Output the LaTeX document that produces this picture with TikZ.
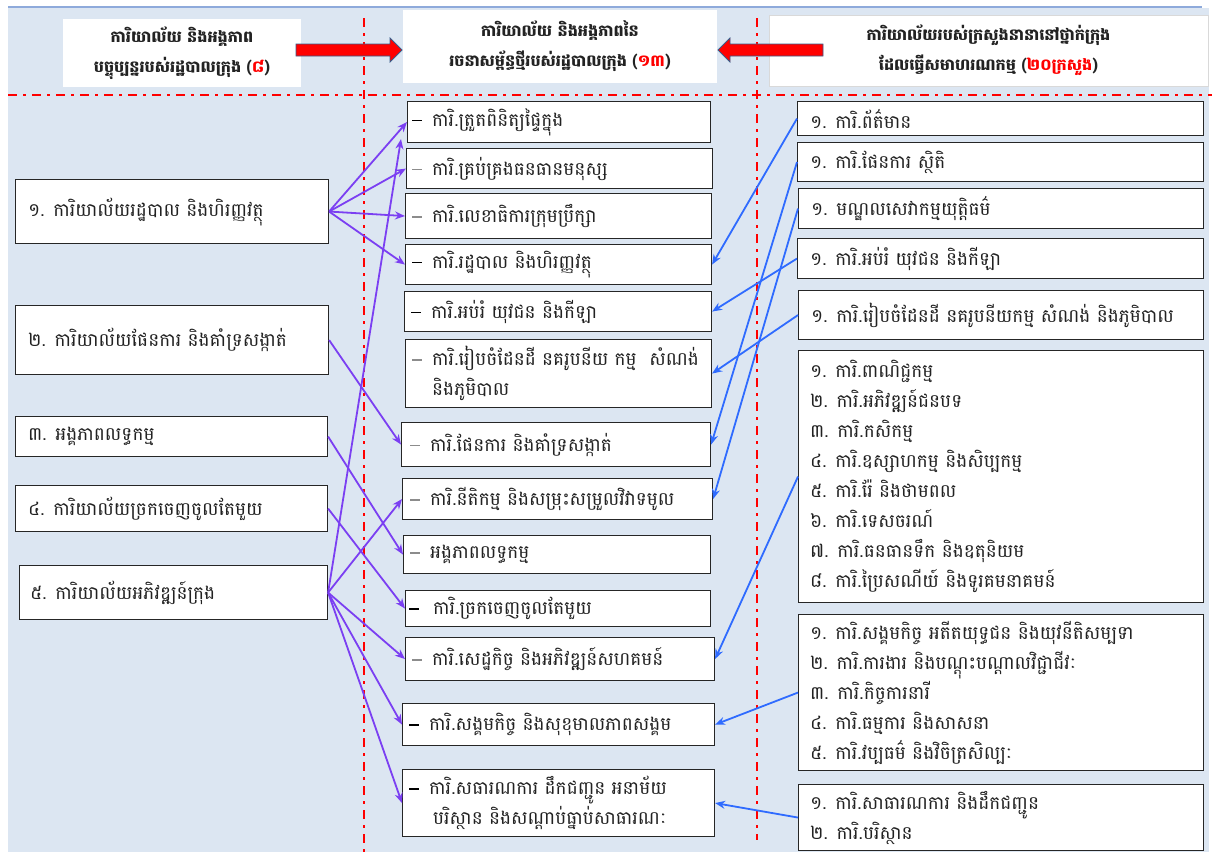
\documentclass[tikz,border=0pt]{standalone}
\usepackage{fontspec}
\newfontfamily\km[Script=Khmer]{Battambang}
\usetikzlibrary{arrows.meta}
\definecolor{bgblue}{HTML}{DCE6F2}
\definecolor{topline}{HTML}{8EAADB}
\definecolor{violetc}{HTML}{7B3FF2}
\definecolor{bluec}{HTML}{2F6BFF}
\definecolor{arrowedge}{HTML}{385D8A}
\definecolor{dashgray}{HTML}{8C8C8C}
\definecolor{txtc}{HTML}{222222}
\newcommand\dsh[1][black]{\makebox[20pt][l]{\textcolor{#1}{\rule[5pt]{10pt}{1.2pt}}}}
\newcommand\mybox[7]{%
  \pgfmathsetmacro\mybw{#4-#2}\pgfmathsetmacro\mybh{#5-#3}%
  \node[box, minimum width=\mybw pt, minimum height=\mybh pt] (#1) at (#2,#3) {};
  \node[txt] (#1t) at ([xshift=#6pt]#1.west) {#7};}
\begin{document}
\begin{tikzpicture}[x=1pt,y=-1pt,
  box/.style={draw=black!85, line width=1.1pt, fill=white, anchor=north west, inner sep=0pt},
  txt/.style={anchor=west, align=left, inner sep=0pt, text=txtc, font=\km\fontsize{18.5}{30}\selectfont},
  hdr/.style={fill=white, align=center, inner sep=0pt, text=txtc, font=\km\bfseries\fontsize{16}{30}\selectfont},
  reddash/.style={red, line width=2pt, dash pattern=on 9pt off 6pt on 3pt off 6pt},
  pa/.style={draw=violetc, line width=1.8pt, -{Stealth[length=10pt,width=8pt]}},
  ba/.style={draw=bluec, line width=1.8pt, -{Stealth[length=10pt,width=8pt]}},
  blockarrow/.style={fill=red, draw=arrowedge, line width=0.8pt}]
\useasboundingbox (0,0) rectangle (1212,852);
\fill[white] (0,0) rectangle (1212,852);
\fill[bgblue] (8,8) rectangle (1209,852);
\draw[topline, line width=2pt] (8,7) -- (1202,7);
% dash-dot guide lines
\draw[reddash] (8,95) -- (1212,95);
\draw[reddash] (364,18) -- (364,852);
\draw[reddash] (757,18) -- (757,840);
% headers
\node[hdr, minimum width=238pt, minimum height=68pt] (H1) at (182,53)
  {ការិយាល័យ និងអង្គភាព\\បច្ចុប្បន្នរបស់រដ្ឋបាលក្រុង ({\color{red}៨})};
\node[hdr, minimum width=314pt, minimum height=73pt] (H2) at (560,46.5)
  {ការិយាល័យ និងអង្គភាពនៃ\\រចនាសម្ព័ន្ធថ្មីរបស់រដ្ឋបាលក្រុង ({\color{red}១៣})};
\node[hdr, draw=black!15, minimum width=439pt, minimum height=71pt] (H3) at (988.5,50.5)
  {ការិយាល័យរបស់ក្រសួងនានានៅថ្នាក់ក្រុង\\ដែលធ្វើសមាហរណកម្ម ({\color{red}២០ក្រសួង})};
% red block arrows
\filldraw[blockarrow] (296,44) -- (390,44) -- (390,38) -- (402,50) -- (390,62) -- (390,56) -- (296,56) -- cycle;
\filldraw[blockarrow] (823,44) -- (730,44) -- (730,38) -- (718,50) -- (730,62) -- (730,56) -- (823,56) -- cycle;
% left column
\mybox{L1}{15}{179}{328}{243}{13}{១. ការិយាល័យរដ្ឋបាល និងហិរញ្ញវត្ថុ}
\mybox{L2}{15}{305}{328}{374}{13}{២. ការិយាល័យផែនការ និងគាំទ្រសង្កាត់}
\mybox{L3}{15}{416}{327}{456}{13}{៣. អង្គភាពលទ្ធកម្ម}
\mybox{L4}{15}{485}{327}{531}{13}{៤. ការិយាល័យច្រកចេញចូលតែមួយ}
\mybox{L5}{19}{565}{327}{619}{11}{៥. ការិយាល័យអភិវឌ្ឍន៍ក្រុង}
% middle column
\mybox{M1}{407}{101}{710}{142}{5}{\dsh ការិ.ត្រួតពិនិត្យផ្ទៃក្នុង}
\mybox{M2}{406}{148}{712}{188}{6}{\dsh[dashgray]ការិ.គ្រប់គ្រងធនធានមនុស្ស}
\mybox{M3}{405}{193}{711}{238}{7}{\dsh[dashgray]ការិ.លេខាធិការក្រុមប្រឹក្សា}
\mybox{M4}{405}{244}{711}{284}{7}{\dsh ការិ.រដ្ឋបាល និងហិរញ្ញវត្ថុ}
\mybox{M5}{404}{291}{711}{331}{7}{\dsh ការិ.អប់រំ យុវជន និងកីឡា}
\mybox{M6}{405}{339}{711}{407}{7}{\dsh[dashgray]ការិ.រៀបចំដែនដី នគរូបនីយ កម្ម\ \ សំណង់\\\hspace*{20pt}និងភូមិបាល}
\mybox{M7}{401}{422}{710}{466}{9}{\dsh[dashgray]ការិ.ផែនការ និងគាំទ្រសង្កាត់}
\mybox{M8}{402}{478}{712}{519}{8}{\dsh[dashgray]ការិ.នីតិកម្ម និងសម្រុះសម្រួលវិវាទមូល}
\mybox{M9}{403}{535}{710}{573}{7}{\dsh[dashgray]អង្គភាពលទ្ធកម្ម}
\mybox{M10}{405}{590}{710}{626}{4}{\dsh\hspace{4pt}ការិ.ច្រកចេញចូលតែមួយ}
\mybox{M11}{405}{637}{714}{680}{7}{\dsh[dashgray]ការិ.សេដ្ឋកិច្ច និងអភិវឌ្ឍន៍សហគមន៍}
\mybox{M12}{402}{703}{714}{745}{7}{\dsh ការិ.សង្គមកិច្ច និងសុខុមាលភាពសង្គម}
\mybox{M13}{402}{769}{714}{836}{7}{\fontsize{18.5}{28}\selectfont\dsh ការិ.សធារណការ ដឹកជញ្ជូន អនាម័យ\\\hspace*{24pt}បរិស្ថាន និងសណ្តាប់ធ្នាប់សាធារណៈ}
% right column
\mybox{R1}{797}{101}{1203}{135}{13}{១. ការិ.ព័ត៌មាន}
\mybox{R2}{797}{142}{1203}{181}{13}{១. ការិ.ផែនការ ស្ថិតិ}
\mybox{R3}{798}{188}{1203}{228}{13}{១. មណ្ឌលសេវាកម្មយុត្តិធម៌}
\mybox{R4}{797}{238}{1203}{278}{13}{១. ការិ.អប់រំ យុវជន និងកីឡា}
\mybox{R5}{798}{290}{1203}{339}{13}{១. ការិ.រៀបចំដែនដី នគរូបនីយកម្ម សំណង់ និងភូមិបាល}
\mybox{R6}{798}{350}{1203}{602}{12}{១. ការិ.ពាណិជ្ជកម្ម\\២. ការិ.អភិវឌ្ឍន៍ជនបទ\\៣. ការិ.កសិកម្ម\\៤. ការិ.ឧស្សាហកម្ម និងសិប្បកម្ម\\៥. ការិ.រ៉ែ និងថាមពល\\៦. ការិ.ទេសចរណ៍\\៧. ការិ.ធនធានទឹក និងឧតុនិយម\\៨. ការិ.ប្រៃសណីយ៍ និងទូរគមនាគមន៍}
\mybox{R7}{798}{614}{1203}{770}{12}{១. ការិ.សង្គមកិច្ច អតីតយុទ្ធជន និងយុវនីតិសម្បទា\\២. ការិ.ការងារ និងបណ្តុះបណ្តាលវិជ្ជាជីវៈ\\៣. ការិ.កិច្ចការនារី\\៤. ការិ.ធម្មការ និងសាសនា\\៥. ការិ.វប្បធម៌ និងវិចិត្រសិល្បៈ}
\mybox{R8}{798}{784}{1203}{850}{12}{\fontsize{18.5}{27}\selectfont ១. ការិ.សាធារណការ និងដឹកជញ្ជូន\\២. ការិ.បរិស្ថាន}
% purple connectors (current -> new)
\draw[pa] (L1.east) -- (M1.west);
\draw[pa] (L1.east) -- (M2.west);
\draw[pa] (L1.east) -- (M3.west);
\draw[pa] (L1.east) -- (M4.west);
\draw[pa] (L2.east) -- (M7.west);
\draw[pa] (L3.east) -- (M9.west);
\draw[pa] (L4.east) -- (M10.west);
\draw[pa] (L5.east) -- ([xshift=-6pt,yshift=4pt]M1.south west);
\draw[pa] (L5.east) -- (M8.west);
\draw[pa] (L5.east) -- (M11.west);
\draw[pa] (L5.east) -- (M12.west);
\draw[pa] (L5.east) -- (M13.west);
% blue connectors (ministries -> new)
\draw[ba] (R1.west) -- (M4.east);
\draw[ba] (R2.west) -- (M7.east);
\draw[ba] (R3.west) -- (M8.east);
\draw[ba] (R4.west) -- (M5.east);
\draw[ba] (R5.west) -- (M6.east);
\draw[ba] (R6.west) -- (M11.east);
\draw[ba] (R7.west) -- (M12.east);
\draw[ba] (R8.west) -- (M13.east);
\end{tikzpicture}
\end{document}
